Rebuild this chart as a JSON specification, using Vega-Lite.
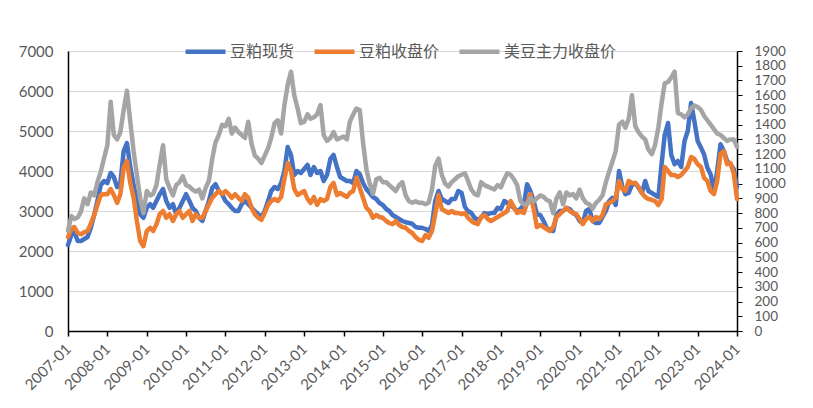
{
"$schema": "https://vega.github.io/schema/vega-lite/v6.json",
"width": 669, "height": 280,
"autosize": {"type": "none"},
"padding": {"left": 68, "top": 51, "right": 76, "bottom": 77},
"background": "white",
"config": {"view": {"stroke": null}, "font": "Lato"},
"data": {"values": [
{"d":"2007-01-01","s":2150,"f":2350,"u":680},{"d":"2007-02-01","s":2400,"f":2550,"u":780},{"d":"2007-03-01","s":2480,"f":2600,"u":760},{"d":"2007-04-01","s":2250,"f":2450,"u":770},{"d":"2007-05-01","s":2250,"f":2420,"u":810},{"d":"2007-06-01","s":2300,"f":2470,"u":900},{"d":"2007-07-01","s":2350,"f":2500,"u":860},{"d":"2007-08-01","s":2580,"f":2680,"u":940},{"d":"2007-09-01","s":2900,"f":2900,"u":920},{"d":"2007-10-01","s":3250,"f":3150,"u":1010},{"d":"2007-11-01","s":3650,"f":3400,"u":1080},{"d":"2007-12-01","s":3750,"f":3420,"u":1170},
{"d":"2008-01-01","s":3700,"f":3420,"u":1260},{"d":"2008-02-01","s":3950,"f":3550,"u":1556},{"d":"2008-03-01","s":3850,"f":3400,"u":1330},{"d":"2008-04-01","s":3600,"f":3200,"u":1300},{"d":"2008-05-01","s":3700,"f":3420,"u":1350},{"d":"2008-06-01","s":4500,"f":4080,"u":1500},{"d":"2008-07-01","s":4700,"f":4250,"u":1630},{"d":"2008-08-01","s":4100,"f":3700,"u":1420},{"d":"2008-09-01","s":3650,"f":3330,"u":1220},{"d":"2008-10-01","s":3250,"f":2750,"u":1060},{"d":"2008-11-01","s":2920,"f":2250,"u":900},{"d":"2008-12-01","s":2830,"f":2120,"u":800},
{"d":"2009-01-01","s":3080,"f":2500,"u":950},{"d":"2009-02-01","s":3170,"f":2580,"u":920},{"d":"2009-03-01","s":3080,"f":2500,"u":930},{"d":"2009-04-01","s":3250,"f":2670,"u":990},{"d":"2009-05-01","s":3420,"f":2920,"u":1130},{"d":"2009-06-01","s":3550,"f":3000,"u":1260},{"d":"2009-07-01","s":3250,"f":2830,"u":1030},{"d":"2009-08-01","s":3080,"f":2920,"u":970},{"d":"2009-09-01","s":3170,"f":2750,"u":920},{"d":"2009-10-01","s":2920,"f":2920,"u":990},{"d":"2009-11-01","s":3080,"f":3000,"u":1010},{"d":"2009-12-01","s":3250,"f":2830,"u":1050},
{"d":"2010-01-01","s":3420,"f":2920,"u":990},{"d":"2010-02-01","s":3250,"f":3000,"u":980},{"d":"2010-03-01","s":3080,"f":2750,"u":960},{"d":"2010-04-01","s":3000,"f":2920,"u":945},{"d":"2010-05-01","s":2830,"f":2830,"u":960},{"d":"2010-06-01","s":2750,"f":2830,"u":900},{"d":"2010-07-01","s":3000,"f":3000,"u":970},{"d":"2010-08-01","s":3250,"f":3170,"u":1020},{"d":"2010-09-01","s":3580,"f":3330,"u":1170},{"d":"2010-10-01","s":3670,"f":3420,"u":1280},{"d":"2010-11-01","s":3500,"f":3500,"u":1330},{"d":"2010-12-01","s":3420,"f":3420,"u":1400},
{"d":"2011-01-01","s":3250,"f":3500,"u":1390},{"d":"2011-02-01","s":3170,"f":3420,"u":1440},{"d":"2011-03-01","s":3080,"f":3330,"u":1340},{"d":"2011-04-01","s":3000,"f":3420,"u":1380},{"d":"2011-05-01","s":3000,"f":3330,"u":1350},{"d":"2011-06-01","s":3170,"f":3250,"u":1330},{"d":"2011-07-01","s":3250,"f":3420,"u":1310},{"d":"2011-08-01","s":3170,"f":3330,"u":1420},{"d":"2011-09-01","s":3080,"f":3080,"u":1270},{"d":"2011-10-01","s":3000,"f":2920,"u":1190},{"d":"2011-11-01","s":2920,"f":2830,"u":1170},{"d":"2011-12-01","s":2850,"f":2780,"u":1140},
{"d":"2012-01-01","s":3000,"f":2950,"u":1190},{"d":"2012-02-01","s":3250,"f":3150,"u":1240},{"d":"2012-03-01","s":3500,"f":3250,"u":1310},{"d":"2012-04-01","s":3600,"f":3300,"u":1410},{"d":"2012-05-01","s":3550,"f":3250,"u":1430},{"d":"2012-06-01","s":3700,"f":3350,"u":1340},{"d":"2012-07-01","s":4000,"f":3800,"u":1530},{"d":"2012-08-01","s":4600,"f":4200,"u":1670},{"d":"2012-09-01","s":4400,"f":4000,"u":1760},{"d":"2012-10-01","s":3900,"f":3550,"u":1600},{"d":"2012-11-01","s":4000,"f":3400,"u":1510},{"d":"2012-12-01","s":3950,"f":3450,"u":1410},
{"d":"2013-01-01","s":4050,"f":3500,"u":1420},{"d":"2013-02-01","s":4150,"f":3300,"u":1470},{"d":"2013-03-01","s":3900,"f":3200,"u":1440},{"d":"2013-04-01","s":4100,"f":3350,"u":1450},{"d":"2013-05-01","s":3950,"f":3150,"u":1470},{"d":"2013-06-01","s":4000,"f":3300,"u":1533},{"d":"2013-07-01","s":3750,"f":3250,"u":1330},{"d":"2013-08-01","s":3900,"f":3300,"u":1290},{"d":"2013-09-01","s":4300,"f":3600,"u":1310},{"d":"2013-10-01","s":4400,"f":3700,"u":1350},{"d":"2013-11-01","s":4100,"f":3400,"u":1300},{"d":"2013-12-01","s":3850,"f":3450,"u":1310},
{"d":"2014-01-01","s":3800,"f":3400,"u":1320},{"d":"2014-02-01","s":3750,"f":3350,"u":1300},{"d":"2014-03-01","s":3750,"f":3450,"u":1420},{"d":"2014-04-01","s":3700,"f":3500,"u":1470},{"d":"2014-05-01","s":4000,"f":3830,"u":1510},{"d":"2014-06-01","s":3920,"f":3580,"u":1500},{"d":"2014-07-01","s":3700,"f":3330,"u":1280},{"d":"2014-08-01","s":3550,"f":3080,"u":1100},{"d":"2014-09-01","s":3450,"f":3000,"u":1000},{"d":"2014-10-01","s":3350,"f":2830,"u":930},{"d":"2014-11-01","s":3300,"f":2900,"u":1030},{"d":"2014-12-01","s":3200,"f":2850,"u":1040},
{"d":"2015-01-01","s":3150,"f":2830,"u":1010},{"d":"2015-02-01","s":3050,"f":2750,"u":1010},{"d":"2015-03-01","s":3000,"f":2700,"u":990},{"d":"2015-04-01","s":2900,"f":2670,"u":970},{"d":"2015-05-01","s":2850,"f":2750,"u":950},{"d":"2015-06-01","s":2800,"f":2650,"u":990},{"d":"2015-07-01","s":2750,"f":2600,"u":1010},{"d":"2015-08-01","s":2720,"f":2580,"u":920},{"d":"2015-09-01","s":2700,"f":2500,"u":880},{"d":"2015-10-01","s":2680,"f":2450,"u":870},{"d":"2015-11-01","s":2600,"f":2350,"u":880},{"d":"2015-12-01","s":2580,"f":2280,"u":870},
{"d":"2016-01-01","s":2580,"f":2250,"u":870},{"d":"2016-02-01","s":2550,"f":2400,"u":860},{"d":"2016-03-01","s":2500,"f":2330,"u":870},{"d":"2016-04-01","s":2650,"f":2500,"u":960},{"d":"2016-05-01","s":3250,"f":2920,"u":1120},{"d":"2016-06-01","s":3500,"f":3400,"u":1170},{"d":"2016-07-01","s":3300,"f":3050,"u":1060},{"d":"2016-08-01","s":3250,"f":3000,"u":1000},{"d":"2016-09-01","s":3200,"f":2950,"u":980},{"d":"2016-10-01","s":3300,"f":3000,"u":1010},{"d":"2016-11-01","s":3300,"f":2950,"u":1030},{"d":"2016-12-01","s":3500,"f":2950,"u":1050},
{"d":"2017-01-01","s":3450,"f":2920,"u":1060},{"d":"2017-02-01","s":3100,"f":2950,"u":1070},{"d":"2017-03-01","s":3000,"f":2830,"u":1020},{"d":"2017-04-01","s":2950,"f":2750,"u":960},{"d":"2017-05-01","s":2830,"f":2700,"u":930},{"d":"2017-06-01","s":2780,"f":2670,"u":920},{"d":"2017-07-01","s":2830,"f":2850,"u":1010},{"d":"2017-08-01","s":2950,"f":2900,"u":990},{"d":"2017-09-01","s":2920,"f":2800,"u":980},{"d":"2017-10-01","s":2950,"f":2750,"u":970},{"d":"2017-11-01","s":2950,"f":2800,"u":960},{"d":"2017-12-01","s":3080,"f":2850,"u":990},
{"d":"2018-01-01","s":3050,"f":2900,"u":975},{"d":"2018-02-01","s":3250,"f":2950,"u":1030},{"d":"2018-03-01","s":3200,"f":3000,"u":1070},{"d":"2018-04-01","s":3150,"f":3250,"u":1060},{"d":"2018-05-01","s":3080,"f":3100,"u":1030},{"d":"2018-06-01","s":3000,"f":2950,"u":990},{"d":"2018-07-01","s":3050,"f":3000,"u":880},{"d":"2018-08-01","s":3150,"f":2950,"u":860},{"d":"2018-09-01","s":3670,"f":3200,"u":860},{"d":"2018-10-01","s":3500,"f":3420,"u":900},{"d":"2018-11-01","s":3250,"f":3050,"u":880},{"d":"2018-12-01","s":2920,"f":2600,"u":900},
{"d":"2019-01-01","s":2900,"f":2650,"u":920},{"d":"2019-02-01","s":2750,"f":2600,"u":910},{"d":"2019-03-01","s":2580,"f":2550,"u":890},{"d":"2019-04-01","s":2520,"f":2500,"u":880},{"d":"2019-05-01","s":2500,"f":2600,"u":800},{"d":"2019-06-01","s":2900,"f":2850,"u":900},{"d":"2019-07-01","s":3000,"f":2920,"u":940},{"d":"2019-08-01","s":3000,"f":3000,"u":860},{"d":"2019-09-01","s":3080,"f":3080,"u":940},{"d":"2019-10-01","s":3050,"f":3000,"u":920},{"d":"2019-11-01","s":2950,"f":2950,"u":930},{"d":"2019-12-01","s":2900,"f":2920,"u":900},
{"d":"2020-01-01","s":2750,"f":2800,"u":960},{"d":"2020-02-01","s":2700,"f":2670,"u":900},{"d":"2020-03-01","s":3000,"f":2800,"u":870},{"d":"2020-04-01","s":3050,"f":2850,"u":860},{"d":"2020-05-01","s":2750,"f":2750,"u":830},{"d":"2020-06-01","s":2700,"f":2850,"u":870},{"d":"2020-07-01","s":2700,"f":2800,"u":890},{"d":"2020-08-01","s":2850,"f":2900,"u":920},{"d":"2020-09-01","s":3000,"f":3170,"u":1010},{"d":"2020-10-01","s":3250,"f":3200,"u":1080},{"d":"2020-11-01","s":3330,"f":3250,"u":1150},{"d":"2020-12-01","s":3150,"f":3330,"u":1220},
{"d":"2021-01-01","s":4000,"f":3750,"u":1400},{"d":"2021-02-01","s":3600,"f":3550,"u":1420},{"d":"2021-03-01","s":3420,"f":3500,"u":1380},{"d":"2021-04-01","s":3450,"f":3750,"u":1440},{"d":"2021-05-01","s":3650,"f":3700,"u":1600},{"d":"2021-06-01","s":3700,"f":3700,"u":1390},{"d":"2021-07-01","s":3580,"f":3600,"u":1350},{"d":"2021-08-01","s":3450,"f":3450,"u":1320},{"d":"2021-09-01","s":3750,"f":3350,"u":1300},{"d":"2021-10-01","s":3500,"f":3300,"u":1230},{"d":"2021-11-01","s":3450,"f":3280,"u":1200},{"d":"2021-12-01","s":3400,"f":3250,"u":1260},
{"d":"2022-01-01","s":3350,"f":3150,"u":1380},{"d":"2022-02-01","s":4200,"f":3300,"u":1550},{"d":"2022-03-01","s":4900,"f":4100,"u":1680},{"d":"2022-04-01","s":5200,"f":4000,"u":1690},{"d":"2022-05-01","s":4400,"f":3900,"u":1720},{"d":"2022-06-01","s":4170,"f":3900,"u":1760},{"d":"2022-07-01","s":4250,"f":3850,"u":1480},{"d":"2022-08-01","s":4100,"f":3900,"u":1470},{"d":"2022-09-01","s":4750,"f":4000,"u":1450},{"d":"2022-10-01","s":5000,"f":4100,"u":1470},{"d":"2022-11-01","s":5700,"f":4350,"u":1510},{"d":"2022-12-01","s":5250,"f":4300,"u":1530},
{"d":"2023-01-01","s":4750,"f":4170,"u":1520},{"d":"2023-02-01","s":4580,"f":4100,"u":1500},{"d":"2023-03-01","s":4420,"f":3830,"u":1460},{"d":"2023-04-01","s":4080,"f":3750,"u":1430},{"d":"2023-05-01","s":3920,"f":3500,"u":1400},{"d":"2023-06-01","s":3500,"f":3420,"u":1370},{"d":"2023-07-01","s":4000,"f":3750,"u":1340},{"d":"2023-08-01","s":4670,"f":4420,"u":1330},{"d":"2023-09-01","s":4500,"f":4500,"u":1310},{"d":"2023-10-01","s":4250,"f":4170,"u":1290},{"d":"2023-11-01","s":4170,"f":4200,"u":1300},{"d":"2023-12-01","s":4050,"f":3950,"u":1300},
{"d":"2024-01-01","s":3600,"f":3300,"u":1250}
]},
"encoding": {
  "x": {"field": "d", "type": "temporal",
    "scale": {"type": "utc", "domain": [{"year": 2007, "month": 1, "date": 1, "utc": true}, {"year": 2024, "month": 1, "date": 1, "utc": true}]},
    "axis": {"title": null, "grid": false,
      "values": [{"year":2007,"month":1,"date":1,"utc":true},{"year":2008,"month":1,"date":1,"utc":true},{"year":2009,"month":1,"date":1,"utc":true},{"year":2010,"month":1,"date":1,"utc":true},{"year":2011,"month":1,"date":1,"utc":true},{"year":2012,"month":1,"date":1,"utc":true},{"year":2013,"month":1,"date":1,"utc":true},{"year":2014,"month":1,"date":1,"utc":true},{"year":2015,"month":1,"date":1,"utc":true},{"year":2016,"month":1,"date":1,"utc":true},{"year":2017,"month":1,"date":1,"utc":true},{"year":2018,"month":1,"date":1,"utc":true},{"year":2019,"month":1,"date":1,"utc":true},{"year":2020,"month":1,"date":1,"utc":true},{"year":2021,"month":1,"date":1,"utc":true},{"year":2022,"month":1,"date":1,"utc":true},{"year":2023,"month":1,"date":1,"utc":true},{"year":2024,"month":1,"date":1,"utc":true}],
      "labelExpr": "utcFormat(datum.value, '%Y-%m')",
      "labelAngle": -45, "labelAlign": "right", "labelBaseline": "middle", "labelPadding": 10,
      "labelFont": "Lato", "labelFontSize": 15, "labelColor": "#595959", "labelOverlap": false, "labelFlush": false,
      "domainColor": "#000000", "domainWidth": 1.5, "ticks": true, "tickColor": "#000000", "tickSize": 5, "tickWidth": 1.5}
  }
},
"layer": [
  {"layer": [
    {"mark": {"type": "line", "strokeWidth": 4.5, "strokeJoin": "round", "strokeCap": "round"},
     "encoding": {
       "y": {"field": "s", "type": "quantitative", "scale": {"domain": [0, 7000]},
         "axis": {"title": null, "values": [0,1000,2000,3000,4000,5000,6000,7000], "format": "d", "grid": true, "gridColor": "#D9D9D9", "gridWidth": 1.2, "ticks": false, "domainColor": "#000000", "domainWidth": 1.5, "labelFont": "Lato", "labelFontSize": 15, "labelColor": "#595959", "labelPadding": 15}},
       "color": {"datum": "豆粕现货", "type": "nominal",
         "scale": {"domain": ["豆粕现货", "豆粕收盘价", "美豆主力收盘价"], "range": ["#4472C4", "#ED7D31", "#A5A5A5"]},
         "legend": {"title": null, "orient": "none", "legendX": 115, "legendY": -22, "direction": "horizontal",
           "symbolType": "stroke", "symbolSize": 1600, "symbolStrokeWidth": 4.5, "labelFont": "Noto Sans CJK SC", "labelFontSize": 16, "labelColor": "#595959", "labelOffset": 2, "columnSpacing": 23}}
     }},
    {"mark": {"type": "line", "strokeWidth": 4.5, "strokeJoin": "round", "strokeCap": "round"},
     "encoding": {
       "y": {"field": "f", "type": "quantitative", "scale": {"domain": [0, 7000]},
         "axis": {"title": null, "values": [0,1000,2000,3000,4000,5000,6000,7000], "format": "d", "grid": true, "gridColor": "#D9D9D9", "gridWidth": 1.2, "ticks": false, "domainColor": "#000000", "domainWidth": 1.5, "labelFont": "Lato", "labelFontSize": 15, "labelColor": "#595959", "labelPadding": 15}},
       "color": {"datum": "豆粕收盘价", "type": "nominal"}
     }}
  ]},
  {"mark": {"type": "line", "strokeWidth": 4.5, "strokeJoin": "round", "strokeCap": "round"},
   "encoding": {
     "y": {"field": "u", "type": "quantitative", "scale": {"domain": [0, 1900]},
       "axis": {"title": null, "orient": "right", "values": [0,100,200,300,400,500,600,700,800,900,1000,1100,1200,1300,1400,1500,1600,1700,1800,1900], "format": "d", "grid": false, "ticks": true, "tickSize": 5, "tickColor": "#000000", "domainColor": "#000000", "domainWidth": 1.5, "labelFont": "Lato", "labelFontSize": 13.5, "labelColor": "#595959", "labelPadding": 12, "labelOverlap": false, "labelFlush": false}},
     "color": {"datum": "美豆主力收盘价", "type": "nominal"}
   }}
],
"resolve": {"scale": {"y": "independent"}}
}
